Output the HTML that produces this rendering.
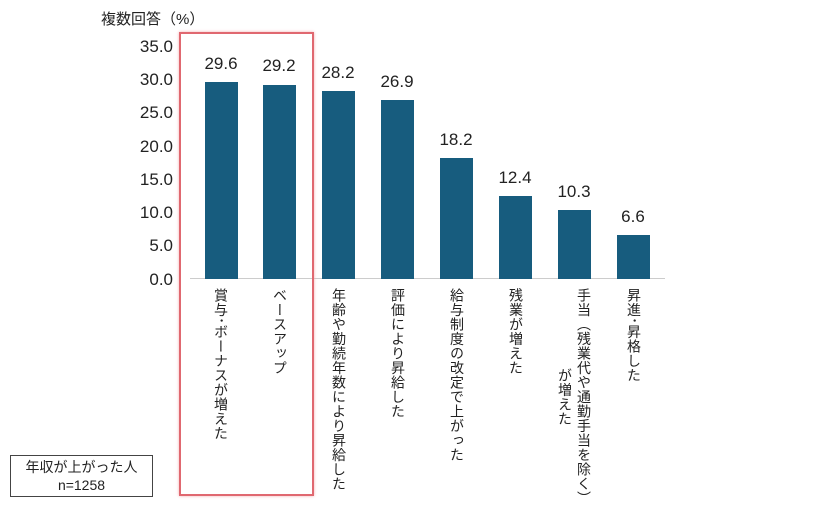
<!DOCTYPE html>
<html><head><meta charset="utf-8"><style>
body{margin:0;width:840px;height:510px;background:#fff;position:relative;overflow:hidden;font-family:"Liberation Sans","Noto Sans CJK JP",sans-serif;color:#222}
.a{position:absolute}
.tk{position:absolute;right:667px;font-size:17px;line-height:17px;color:#222}
.bar{position:absolute;width:33px;background:#175c7e;bottom:231px}
.v{position:absolute;width:60px;text-align:center;font-size:17px;line-height:17px}
.lb{position:absolute;top:288px;writing-mode:vertical-rl;font-size:14px;line-height:16px;letter-spacing:0.5px}
</style></head><body>
<div class="a" style="left:101px;top:8px;font-size:15px">複数回答（%）</div>
<div class="tk" style="top:38px">35.0</div>
<div class="tk" style="top:71px">30.0</div>
<div class="tk" style="top:104px">25.0</div>
<div class="tk" style="top:138px">20.0</div>
<div class="tk" style="top:171px">15.0</div>
<div class="tk" style="top:204px">10.0</div>
<div class="tk" style="top:237px">5.0</div>
<div class="tk" style="top:271px">0.0</div>
<div class="a" style="left:190px;top:278px;width:475px;height:1px;background:#ccc"></div>

<div class="bar" style="left:205px;height:197px"></div>
<div class="bar" style="left:263px;height:194px"></div>
<div class="bar" style="left:322px;height:188px"></div>
<div class="bar" style="left:381px;height:179px"></div>
<div class="bar" style="left:440px;height:121px"></div>
<div class="bar" style="left:499px;height:83px"></div>
<div class="bar" style="left:558px;height:69px"></div>
<div class="bar" style="left:617px;height:44px"></div>

<div class="v" style="left:191px;top:55px">29.6</div>
<div class="v" style="left:249px;top:57px">29.2</div>
<div class="v" style="left:308px;top:64px">28.2</div>
<div class="v" style="left:367px;top:73px">26.9</div>
<div class="v" style="left:426px;top:131px">18.2</div>
<div class="v" style="left:485px;top:169px">12.4</div>
<div class="v" style="left:544px;top:183px">10.3</div>
<div class="v" style="left:603px;top:208px">6.6</div>

<div class="lb" style="left:213px">賞与･ボーナスが増えた</div>
<div class="lb" style="left:272px">ベースアップ</div>
<div class="lb" style="left:331px">年齢や勤続年数により昇給した</div>
<div class="lb" style="left:390px">評価により昇給した</div>
<div class="lb" style="left:449px">給与制度の改定で上がった</div>
<div class="lb" style="left:508px">残業が増えた</div>
<div class="lb" style="left:555px;line-height:19px;text-align:center">手当（残業代や通勤手当を除く）<br>が増えた</div>
<div class="lb" style="left:626px">昇進･昇格した</div>

<div class="a" style="left:179px;top:32px;width:131px;height:460px;border:2px solid #e06870;box-shadow:0 0 3px #f3b0b5"></div>
<div class="a" style="left:10px;top:455px;width:143px;height:42px;border:1px solid #444;text-align:center;font-size:14px;line-height:18px;padding-top:2px;box-sizing:border-box">年収が上がった人<br>n=1258</div>
</body></html>
